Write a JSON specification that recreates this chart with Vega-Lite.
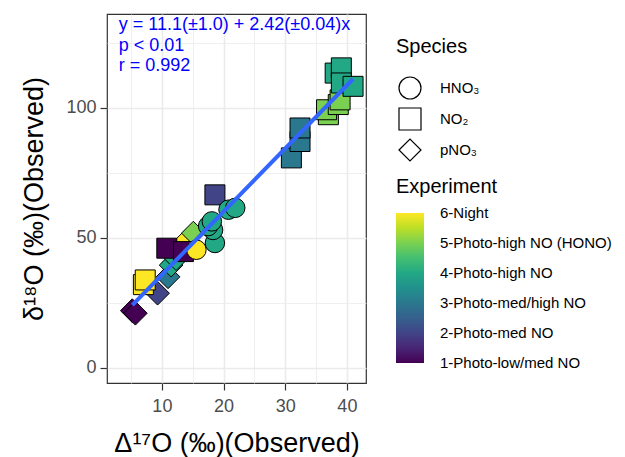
{
  "$schema": "https://vega.github.io/schema/vega-lite/v6.json",
  "autosize": "none",
  "width": 259,
  "height": 369,
  "padding": {"left": 107, "top": 14, "right": 259, "bottom": 74},
  "background": "white",
  "config": {
    "font": "Liberation Sans",
    "view": {"stroke": "#333333", "strokeWidth": 1.2},
    "legend": {"padding": 0}
  },
  "datasets": {
    "pts": [
      {"species": "pNO₃", "exp": 1, "d17": 5.2, "d18": 22.0},
      {"species": "pNO₃", "exp": 1, "d17": 5.7, "d18": 21.0},
      {"species": "pNO₃", "exp": 2, "d17": 9.3, "d18": 28.7},
      {"species": "pNO₃", "exp": 3, "d17": 11.0, "d18": 35.0},
      {"species": "pNO₃", "exp": 4, "d17": 11.5, "d18": 39.5},
      {"species": "pNO₃", "exp": 4, "d17": 12.3, "d18": 42.0},
      {"species": "pNO₃", "exp": 6, "d17": 14.0, "d18": 49.0},
      {"species": "pNO₃", "exp": 5, "d17": 15.1, "d18": 51.8},
      {"species": "NO₂", "exp": 6, "d17": 7.0, "d18": 32.0},
      {"species": "NO₂", "exp": 6, "d17": 7.3, "d18": 33.8},
      {"species": "NO₂", "exp": 1, "d17": 10.8, "d18": 46.0},
      {"species": "NO₂", "exp": 1, "d17": 13.5, "d18": 44.7},
      {"species": "NO₂", "exp": 2, "d17": 18.6, "d18": 66.5},
      {"species": "NO₂", "exp": 3, "d17": 31.0, "d18": 80.7},
      {"species": "NO₂", "exp": 3, "d17": 32.4, "d18": 87.0},
      {"species": "NO₂", "exp": 3, "d17": 32.4, "d18": 92.2},
      {"species": "NO₂", "exp": 5, "d17": 37.0, "d18": 97.3},
      {"species": "NO₂", "exp": 5, "d17": 36.7, "d18": 99.2},
      {"species": "NO₂", "exp": 5, "d17": 38.6, "d18": 101.2},
      {"species": "NO₂", "exp": 5, "d17": 38.9, "d18": 103.0},
      {"species": "NO₂", "exp": 4, "d17": 38.1, "d18": 113.3},
      {"species": "NO₂", "exp": 4, "d17": 39.1, "d18": 115.3},
      {"species": "NO₂", "exp": 4, "d17": 39.1, "d18": 109.5},
      {"species": "NO₂", "exp": 4, "d17": 41.0, "d18": 108.2},
      {"species": "HNO₃", "exp": 6, "d17": 15.6, "d18": 45.4},
      {"species": "HNO₃", "exp": 4, "d17": 18.6, "d18": 48.0},
      {"species": "HNO₃", "exp": 4, "d17": 18.3, "d18": 53.0},
      {"species": "HNO₃", "exp": 4, "d17": 17.5, "d18": 54.5},
      {"species": "HNO₃", "exp": 4, "d17": 18.1, "d18": 56.3},
      {"species": "HNO₃", "exp": 4, "d17": 20.8, "d18": 60.8},
      {"species": "HNO₃", "exp": 4, "d17": 21.9, "d18": 61.5}
    ],
    "ann": [
      {"d17": 3, "d18": 131.6, "label": "y = 11.1(±1.0) + 2.42(±0.04)x"},
      {"d17": 3, "d18": 123.6, "label": "p < 0.01"},
      {"d17": 3, "d18": 115.9, "label": "r = 0.992"}
    ]
  },
  "encoding": {
    "x": {
      "field": "d17", "type": "quantitative",
      "scale": {"domain": [1.1, 43.1], "nice": false, "zero": false},
      "axis": {
        "values": [5, 10, 15, 20, 25, 30, 35, 40],
        "labelExpr": "datum.value % 10 === 0 ? datum.label : ''",
        "labelOverlap": false,
        "gridColor": "#EBEBEB",
        "gridWidth": {"condition": {"test": "datum.value % 10 === 0", "value": 1.6}, "value": 0.8},
        "tickOpacity": {"condition": {"test": "datum.value % 10 === 0", "value": 1}, "value": 0},
        "domain": false,
        "tickColor": "#333333", "tickSize": 7, "tickWidth": 1.2,
        "labelColor": "#4D4D4D", "labelFontSize": 18, "labelPadding": 7,
        "title": "Δ¹⁷O (‰)(Observed)",
        "titleFontSize": 27, "titleFontWeight": "normal", "titleColor": "black",
        "titleY": 60, "titleBaseline": "middle"
      }
    },
    "y": {
      "field": "d18", "type": "quantitative",
      "scale": {"domain": [-5.8, 136], "nice": false, "zero": false},
      "axis": {
        "values": [0, 25, 50, 75, 100, 125],
        "labelExpr": "datum.value % 50 === 0 ? datum.label : ''",
        "labelOverlap": false,
        "gridColor": "#EBEBEB",
        "gridWidth": {"condition": {"test": "datum.value % 50 === 0", "value": 1.6}, "value": 0.8},
        "tickOpacity": {"condition": {"test": "datum.value % 50 === 0", "value": 1}, "value": 0},
        "domain": false,
        "tickColor": "#333333", "tickSize": 7, "tickWidth": 1.2,
        "labelColor": "#4D4D4D", "labelFontSize": 18, "labelPadding": 4,
        "title": "δ¹⁸O (‰)(Observed)",
        "titleFontSize": 27, "titleFontWeight": "normal", "titleColor": "black",
        "titleX": -73, "titleBaseline": "middle"
      }
    }
  },
  "layer": [
    {
      "data": {"name": "pts"},
      "encoding": {
        "shape": {
          "field": "species", "type": "nominal",
          "scale": {"domain": ["HNO₃", "NO₂", "pNO₃"], "range": ["circle", "square", "diamond"]},
          "legend": {
            "orient": "none", "legendX": 289, "legendY": 23,
            "title": "Species", "titleFontSize": 20, "titleFontWeight": "normal", "titleColor": "black",
            "titlePadding": 19,
            "labelFontSize": 15, "labelColor": "black", "labelOffset": 18,
            "symbolSize": 484, "symbolFillColor": "white", "symbolStrokeColor": "black", "symbolStrokeWidth": 1.2,
            "symbolOffset": 2, "rowPadding": 3
          }
        },
        "color": {
          "field": "exp", "type": "quantitative",
          "scale": {"scheme": "viridis", "domain": [1, 6]},
          "legend": {
            "type": "gradient", "direction": "vertical",
            "orient": "none", "legendX": 289, "legendY": 163,
            "title": "Experiment", "titleFontSize": 20, "titleFontWeight": "normal", "titleColor": "black",
            "titlePadding": 16,
            "values": [1.01, 2, 3, 4, 5, 5.99],
            "labelExpr": "round(datum.value) == 1 ? '1-Photo-low/med NO' : round(datum.value) == 2 ? '2-Photo-med NO' : round(datum.value) == 3 ? '3-Photo-med/high NO' : round(datum.value) == 4 ? '4-Photo-high NO' : round(datum.value) == 5 ? '5-Photo-high NO (HONO)' : '6-Night'",
            "labelFontSize": 15, "labelColor": "black", "labelOffset": 16,
            "gradientLength": 150, "gradientThickness": 28, "gradientStrokeWidth": 0
          }
        }
      },
      "layer": [
        {
          "transform": [{"filter": "datum.species == 'pNO₃'"}],
          "mark": {"type": "point", "filled": true, "stroke": "black", "strokeWidth": 1, "opacity": 1, "size": 560}
        },
        {
          "transform": [{"filter": "datum.species == 'NO₂'"}],
          "mark": {"type": "point", "filled": true, "stroke": "black", "strokeWidth": 1, "opacity": 1, "size": 400}
        },
        {
          "transform": [{"filter": "datum.species == 'HNO₃'"}],
          "mark": {"type": "point", "filled": true, "stroke": "black", "strokeWidth": 1, "opacity": 1, "size": 380}
        }
      ]
    },
    {
      "data": {"name": "pts"},
      "transform": [{"regression": "d18", "on": "d17"}],
      "mark": {"type": "line", "color": "#3366FF", "strokeWidth": 4},
      "encoding": {
        "x": {"field": "d17", "type": "quantitative"},
        "y": {"field": "d18", "type": "quantitative"}
      }
    },
    {
      "data": {"name": "ann"},
      "mark": {"type": "text", "align": "left", "baseline": "middle", "fontSize": 18, "color": "#0000FF"},
      "encoding": {
        "x": {"field": "d17", "type": "quantitative"},
        "y": {"field": "d18", "type": "quantitative"},
        "text": {"field": "label"}
      }
    }
  ]
}
